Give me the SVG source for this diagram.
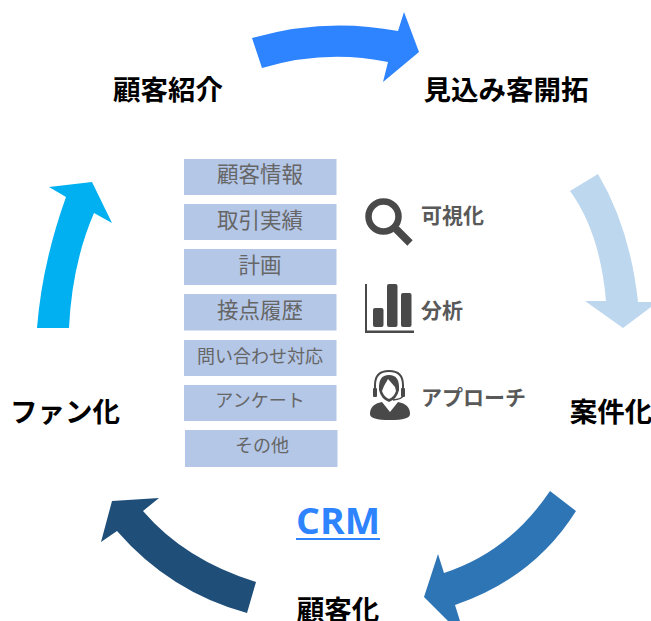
<svg xmlns="http://www.w3.org/2000/svg" width="651" height="621" viewBox="0 0 651 621">
<style>
.t{font-family:"Noto Sans CJK JP",sans-serif;font-weight:700;font-size:27.5px;fill:#000;text-anchor:middle}
.b{fill:#b4c7e7}
.l{font-family:"Noto Sans CJK JP",sans-serif;font-size:21.5px;fill:#666;text-anchor:middle}
.s{font-size:18px}
.f{font-family:"Noto Sans CJK JP",sans-serif;font-weight:700;font-size:21px;fill:#595959}
.i{fill:#494949}
</style>
<rect width="651" height="621" fill="#fff"/>
<g id="connectors">
<path id="arrow-top" fill="#2e83ff" d="M252 38Q325 17 398 31L404 12L419 52L383 82L388 62Q325 49 262 68Z"/>
<path id="arrow-right" fill="#bdd7ee" d="M570 191L598 174Q630 228 638 302L651 302L651 307L623 328L585 301L606 301Q600 232 570 191Z"/>
<path id="arrow-bottom-right" fill="#2e75b6" d="M550 491L576 511Q534 578 455 605L460 621L448 621L424 597L438 554L444 573Q509 552 550 491Z"/>
<path id="arrow-bottom-left" fill="#1f4e79" d="M256 582L247 613Q170 592 117 531L101 542L112 501L159 498L143 511Q185 560 256 582Z"/>
<path id="arrow-left" fill="#00b0f0" d="M37 328H69Q72 264 94 213L112 223L92 182L49 187L66 197Q42 264 37 328Z"/>
</g>
<g id="node-kokyaku-shokai"><text class="t" x="168" y="100">顧客紹介</text></g>
<g id="node-mikomi"><text class="t" x="506" y="100">見込み客開拓</text></g>
<g id="node-anken"><text class="t" x="611" y="422">案件化</text></g>
<g id="node-kokyaku"><text class="t" x="338" y="620">顧客化</text></g>
<g id="node-fan"><text class="t" x="65" y="422">ファン化</text></g>
<g id="node-crm"><text x="296" y="534" font-family="Open Sans" font-weight="700" font-size="36" fill="#2e83ff" textLength="84" lengthAdjust="spacingAndGlyphs">CRM</text><rect x="296" y="538" width="84" height="2" fill="#2e83ff"/></g>
<g id="item-1"><rect class="b" x="184" y="159" width="152.500" height="36"/><text class="l" x="260" y="182">顧客情報</text></g>
<g id="item-2"><rect class="b" x="184" y="204" width="152.500" height="36"/><text class="l" x="260" y="228">取引実績</text></g>
<g id="item-3"><rect class="b" x="184" y="249" width="152.500" height="36"/><text class="l" x="260" y="273">計画</text></g>
<g id="item-4"><rect class="b" x="184" y="294" width="152.500" height="36.500"/><text class="l" x="260" y="318">接点履歴</text></g>
<g id="item-5"><rect class="b" x="184" y="340" width="152.500" height="36"/><text class="l s" x="260" y="363">問い合わせ対応</text></g>
<g id="item-6"><rect class="b" x="184" y="385" width="152.500" height="36"/><text class="l s" x="260" y="407">アンケート</text></g>
<g id="item-7"><rect class="b" x="185" y="430" width="152.500" height="37"/><text class="l s" x="262" y="452">その他</text></g>
<g id="feature-1">
<circle cx="383.5" cy="216.5" r="15" fill="none" stroke="#494949" stroke-width="6.5"/>
<path d="M396 229L410 243" stroke="#494949" stroke-width="7.5" fill="none"/>
<text class="f" x="421" y="223">可視化</text></g>
<g id="feature-2">
<path class="i" d="M365 284H367V330.500H414V333H365Z"/>
<rect class="i" x="373" y="308" width="10.500" height="19" rx="2"/>
<rect class="i" x="387" y="284" width="10.500" height="43" rx="2"/>
<rect class="i" x="401" y="293" width="10.500" height="34" rx="2"/>
<text class="f" x="421" y="318">分析</text></g>
<g id="feature-3">
<path d="M375 392V385Q375 371 389 371Q403 371 403 385V392" fill="none" stroke="#494949" stroke-width="2"/>
<rect class="i" x="373" y="388" width="4" height="9" rx="1"/>
<rect class="i" x="401" y="388" width="4" height="9" rx="1"/>
<path class="i" d="M379 390Q378 375 389 375Q400 375 399 390Q397 399 389 402Q381 399 379 390Z"/>
<path fill="#fff" d="M384 386L388 379L395 387L396 391Q394 397 389 399Q384 397 382 391Z"/>
<path d="M403 396Q402 399 393 400" fill="none" stroke="#494949" stroke-width="1.500"/>
<path class="i" d="M370 414Q370 404 382 402L390 412L398 402Q410 404 410 414Q410 420 390 420Q370 420 370 414Z"/>
<text class="f" x="421" y="405">アプローチ</text></g>
</svg>
